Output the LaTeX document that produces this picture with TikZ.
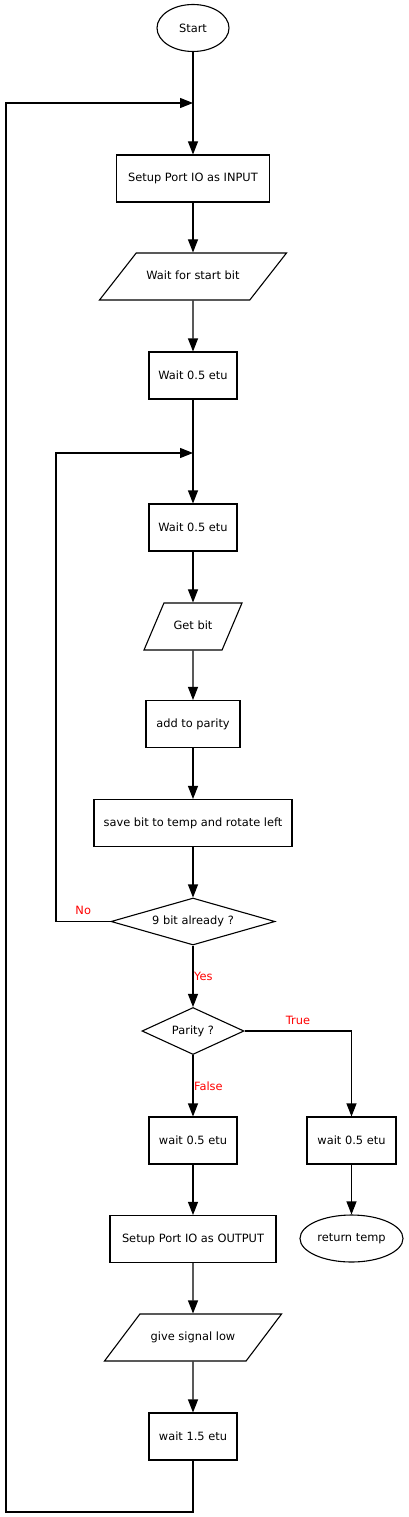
\documentclass[tikz,border=0pt]{standalone}
\usepackage{fontspec}
\setmainfont{DejaVu Sans}
\usetikzlibrary{arrows.meta, shapes, positioning}

\begin{document}
\begin{tikzpicture}[x=1pt, y=-1pt, >={Triangle[length=13pt, width=10pt]}, node distance=99pt, line width=1.1pt, font=\fontsize{11.4}{13}\selectfont,
    box/.style={rectangle, draw, minimum height=47pt, inner sep=0pt},
    io/.style={trapezium, draw, trapezium stretches body, inner xsep=0pt, inner ysep=18.25pt, text height=8pt, text depth=2.5pt},
    term/.style={ellipse, draw, minimum height=47pt, inner sep=0pt},
    test/.style={diamond, draw, minimum height=47pt, inner sep=0pt, aspect=3},
    lab/.style={text=red, inner sep=0.5pt}]

        \useasboundingbox (0,0) rectangle (408,1517);

        \node[term, minimum width=72pt] (start) at (193,28) {Start};
        \coordinate[node distance=75pt, below of=start] (j1);
        \node[box, minimum width=153pt, node distance=150.5pt, below of=start] (setupIn) {Setup Port IO as INPUT};
        \node[io, trapezium left angle=52, trapezium right angle=128, minimum width=187pt, node distance=98pt, below of=setupIn] (waitStart) {Wait for start bit};
        \node[box, minimum width=88pt, below of=waitStart] (waitA) {Wait 0.5 etu};
        \coordinate[node distance=77.5pt, below of=waitA] (j2);
        \node[box, minimum width=88pt, node distance=152pt, below of=waitA] (waitB) {Wait 0.5 etu};
        \node[io, trapezium left angle=67, trapezium right angle=113, minimum width=98pt, below of=waitB] (getBit) {Get bit};
        \node[box, minimum width=94pt, node distance=97.5pt, below of=getBit] (addPar) {add to parity};
        \node[box, minimum width=198pt, below of=addPar] (save) {save bit to temp and rotate left};
        \node[test, minimum width=164pt, node distance=98.5pt, below of=save] (nine) {9 bit already ?};
        \node[test, minimum width=102pt, node distance=109.5pt, below of=nine] (parity) {Parity ?};
        \node[box, minimum width=88pt, node distance=109.5pt, below of=parity] (waitF) {wait 0.5 etu};
        \node[box, minimum width=89pt, node distance=158.5pt, right of=waitF] (waitT) {wait 0.5 etu};
        \node[term, minimum width=103pt, node distance=98pt, below of=waitT] (ret) {return temp};
        \node[box, minimum width=166pt, node distance=98.5pt, below of=waitF] (setupOut) {Setup Port IO as OUTPUT};
        \node[io, trapezium left angle=53, trapezium right angle=127, minimum width=177pt, node distance=98.5pt, below of=setupOut] (low) {give signal low};
        \node[box, minimum width=88pt, below of=low] (waitC) {wait 1.5 etu};

        \coordinate (loopA) at (6,1512);
        \coordinate (loopB) at (56,0);

        \draw (start) -- (j1);
        \draw[->] (j1) -- (setupIn);
        \draw[->] (setupIn) -- (waitStart);
        \draw[->] (waitStart) -- (waitA);
        \draw (waitA) -- (j2);
        \draw[->] (j2) -- (waitB);
        \draw[->] (waitB) -- (getBit);
        \draw[->] (getBit) -- (addPar);
        \draw[->] (addPar) -- (save);
        \draw[->] (save) -- (nine);
        \draw[->] (nine) -- node[lab, right] {Yes} (parity);
        \draw[->] (parity) -| node[lab, pos=0.25, above=5pt] {True} (waitT);
        \draw[->] (parity) -- node[lab, right] {False} (waitF);
        \draw[->] (waitT) -- (ret);
        \draw[->] (waitF) -- (setupOut);
        \draw[->] (setupOut) -- (low);
        \draw[->] (low) -- (waitC);

        \draw[->] (waitC) |- (loopA) |- (j1);
        \draw[->] (nine) -- node[lab, above=6pt] {No} (nine -| loopB) |- (j2);

    \end{tikzpicture}
\end{document}
